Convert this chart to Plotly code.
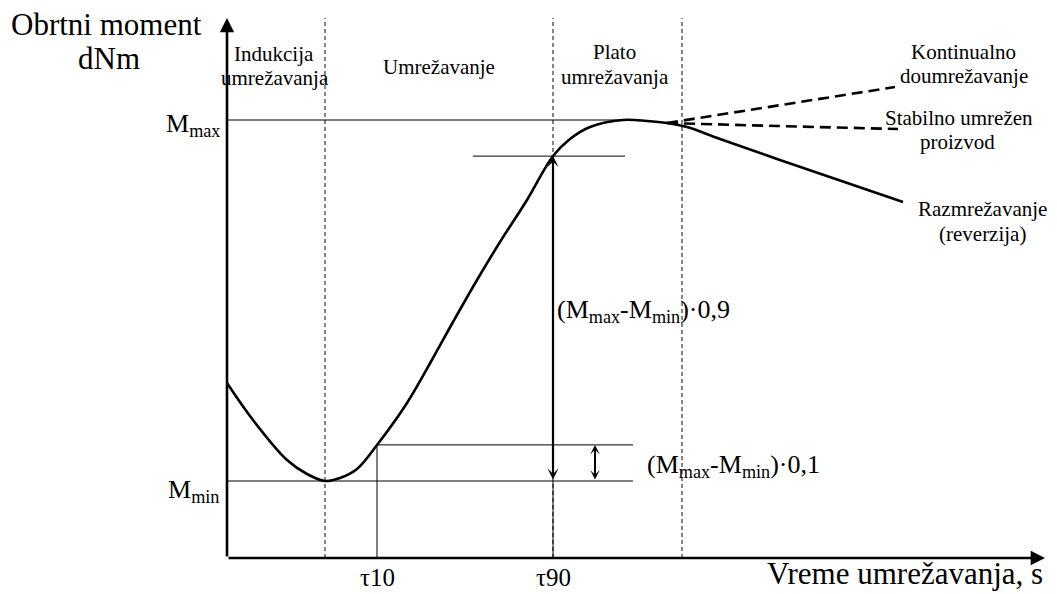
import plotly.graph_objects as go

# Rheometer cure curve (schematic), time in s, torque in dNm
t_curve = [0, 2.6, 6.0, 8.0, 9.8, 11.3, 13.0, 15.0, 18.0, 20.6, 22.6, 25.0, 27.3, 30.0,
           32.6, 34.3, 36.3, 39.6, 42.0, 44.0, 46.0, 49.3, 55.0, 67.6]
m_curve = [17.5, 13.8, 9.8, 8.4, 7.7, 8.0, 8.9, 11.3, 15.5, 20.0, 23.6, 27.8, 31.6, 35.8,
           40.2, 41.9, 43.1, 43.8, 43.7, 43.5, 43.1, 41.9, 39.9, 35.6]

# Alternative behaviour after the plateau
t_marching = [44.0, 66.8]
m_marching = [43.5, 47.1]
t_stable = [44.0, 55.0, 67.1]
m_stable = [43.5, 43.2, 42.9]

M_MIN = 7.7
M_MAX = 43.8
T_MIN = 9.8          # time of minimum torque
TAU10 = 15.0
TAU90 = 32.6
T_PLATEAU_END = 45.5
phase_bounds = [T_MIN, TAU90, T_PLATEAU_END]

X_END = 81.8         # end of time axis
Y_END = 54.0         # end of torque axis

M10 = M_MIN + 0.1 * (M_MAX - M_MIN)
M90 = M_MIN + 0.9 * (M_MAX - M_MIN)

FONT = "'Liberation Serif', 'Times New Roman', Times, 'DejaVu Serif', serif"
fig = go.Figure()


def seg(x, y, width=1.0, color="black", dash=None):
    fig.add_trace(go.Scatter(x=x, y=y, mode="lines", hoverinfo="skip",
                             line=dict(color=color, width=width, dash=dash)))


# phase boundaries
for tb in phase_bounds:
    seg([tb, tb], [0, Y_END], width=1.2, color="#333333", dash="4px,3px")

# reference levels
seg([0, 39.6], [M_MAX, M_MAX])
seg([0, 40.6], [M_MIN, M_MIN])
seg([TAU10, 40.6], [M10, M10])
seg([24.6, 39.8], [M90, M90])
seg([TAU10, TAU10], [0, M10])
seg([TAU90, TAU90], [0, M_MIN])

# cure curve and its continuations
fig.add_trace(go.Scatter(x=t_curve, y=m_curve, mode="lines", hoverinfo="skip",
                         line=dict(color="black", width=2.6, shape="spline", smoothing=1.0)))
seg(t_marching, m_marching, width=2.6, dash="11px,6px")
fig.add_trace(go.Scatter(x=t_stable, y=m_stable, mode="lines", hoverinfo="skip",
                         line=dict(color="black", width=2.6, dash="11px,6px", shape="spline")))

ann = []
# axes with arrowheads
ann.append(dict(x=X_END, y=0, ax=0, ay=0, xref="x", yref="y", axref="x", ayref="y",
                text="", showarrow=True, arrowhead=2, arrowsize=1.1, arrowwidth=2.6,
                arrowcolor="black", standoff=0))
ann.append(dict(x=0, y=Y_END, ax=0, ay=0, xref="x", yref="y", axref="x", ayref="y",
                text="", showarrow=True, arrowhead=2, arrowsize=1.1, arrowwidth=2.6,
                arrowcolor="black", standoff=0))
# 90 % span arrow
ann.append(dict(x=TAU90, y=M90, ax=TAU90, ay=M_MIN, xref="x", yref="y", axref="x", ayref="y",
                text="", showarrow=True, arrowhead=3, startarrowhead=3, arrowside="end+start",
                arrowsize=0.85, startarrowsize=0.85, arrowwidth=2.2, arrowcolor="black",
                standoff=0, startstandoff=0))
# 10 % span arrow
ann.append(dict(x=36.8, y=M10, ax=36.8, ay=M_MIN, xref="x", yref="y", axref="x", ayref="y",
                text="", showarrow=True, arrowhead=3, startarrowhead=3, arrowside="end+start",
                arrowsize=0.8, startarrowsize=0.8, arrowwidth=2.0, arrowcolor="black",
                standoff=0, startstandoff=0))


def label(text, x, y, size=21, xanchor="center", yanchor="middle"):
    ann.append(dict(x=x, y=y, xref="x", yref="y", text=text, showarrow=False,
                    xanchor=xanchor, yanchor=yanchor,
                    font=dict(family=FONT, size=size, color="black")))


label("Obrtni moment", -12.1, 53.4, size=31)
label("dNm", -11.8, 50.0, size=31)
label("Indukcija", 4.7, 50.4)
label("umrežavanja", 4.8, 48.0)
label("Umrežavanje", 21.2, 49.1)
label("Plato", 38.7, 50.6)
label("umrežavanja", 38.8, 48.1)
label("Kontinualno", 73.6, 50.6)
label("doumrežavanje", 73.7, 48.2)
label("Stabilno umrežen", 73.2, 44.0)
label("proizvod", 73.0, 41.6)
label("Razmrežavanje", 75.5, 34.9)
label("(reverzija)", 75.5, 32.4)
label("M<sub>max</sub>", -0.5, 43.3, size=26, xanchor="right")
label("M<sub>min</sub>", -0.6, 6.7, size=26, xanchor="right")
label("(M<sub>max</sub>-M<sub>min</sub>)·0,9", 32.8, 24.7, size=26, xanchor="left")
label("(M<sub>max</sub>-M<sub>min</sub>)·0,1", 41.8, 9.2, size=26, xanchor="left")
label("τ10", TAU10, -3.5, size=25, yanchor="bottom")
label("τ90", TAU90, -3.5, size=25, yanchor="bottom")
label("Vreme umrežavanja, s", 81.8, -1.5, size=31, xanchor="right")

fig.update_layout(
    width=1057, height=594,
    margin=dict(l=0, r=0, t=0, b=0),
    paper_bgcolor="white", plot_bgcolor="white",
    showlegend=False,
    annotations=ann,
    xaxis=dict(visible=False, range=[-22.7, 83.0], fixedrange=True),
    yaxis=dict(visible=False, range=[-3.6, 55.8], fixedrange=True),
    font=dict(family=FONT, color="black"),
)

fig.write_html("out.html", config={"displayModeBar": False})
